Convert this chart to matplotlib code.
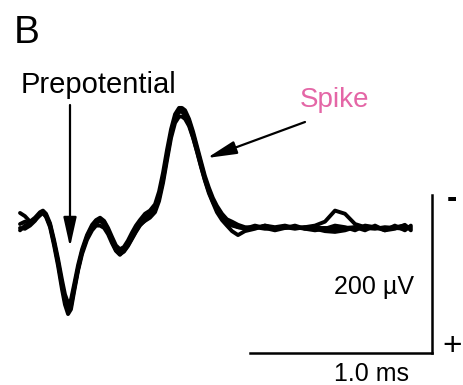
import matplotlib
matplotlib.use("Agg")
import matplotlib.pyplot as plt

plt.rcParams['font.family'] = ['Liberation Sans', 'DejaVu Sans']

# time (ms) and voltage (µV, negative up) of overlaid traces
time_ms = [0.000, 0.027, 0.055, 0.082, 0.110, 0.126, 0.143, 0.165, 0.187, 0.209,
           0.231, 0.247, 0.264, 0.280, 0.297, 0.319, 0.341, 0.368, 0.396, 0.418,
           0.440, 0.462, 0.484, 0.505, 0.527, 0.549, 0.571, 0.593, 0.615, 0.637,
           0.659, 0.687, 0.714, 0.742, 0.764, 0.786, 0.808, 0.830, 0.852, 0.874,
           0.890, 0.907, 0.929, 0.951, 0.973, 0.995, 1.016, 1.038, 1.060, 1.082,
           1.110, 1.137, 1.165, 1.198, 1.236, 1.291, 1.346, 1.401, 1.456, 1.511,
           1.566, 1.621, 1.676, 1.731, 1.786, 1.841, 1.896, 1.951, 2.005, 2.060,
           2.115, 2.148]

trace_a = [-5, -8, -6, -11, -19, -20, -16, -4, 18, 43,
           71, 89, 100, 95, 76, 51, 30, 13, 0, -6,
           -9, -5, 4, 15, 25, 30, 27, 19, 10, 1,
           -6, -14, -19, -27, -41, -63, -92, -120, -139, -148,
           -149, -147, -135, -119, -100, -81, -63, -48, -35, -25,
           -15, -9, -5, -1, 0, -1, 1, 0, 0, -1,
           1, 0, 0, 1, 0, -1, 0, 1, -1, 0,
           1, -1]

trace_b = [0, 1, -3, -9, -18, -19, -14, -1, 22, 48,
           78, 97, 109, 103, 81, 54, 33, 15, 3, -3,
           -3, 0, 8, 19, 29, 34, 29, 22, 13, 4,
           -4, -9, -13, -20, -34, -57, -86, -114, -133, -141,
           -141, -138, -129, -114, -96, -77, -60, -44, -32, -20,
           -10, -3, 4, 9, 4, 1, -3, 1, -1, 1,
           -1, 1, 4, 5, 3, -1, 3, -3, 3, -3,
           3, -3]

trace_c = [-19, -15, -8, -13, -20, -22, -18, -6, 15, 39,
           66, 84, 95, 91, 72, 47, 27, 9, -4, -10,
           -13, -9, 0, 11, 22, 27, 24, 16, 6, -3,
           -10, -18, -22, -30, -46, -70, -99, -125, -144, -152,
           -152, -149, -138, -122, -103, -84, -66, -51, -38, -28,
           -18, -11, -8, -4, -1, 0, -3, -1, -3, 0,
           -1, -3, -8, -22, -18, -5, -1, 0, 1, -1,
           -3, 1]

trace_d = [3, -3, -5, -10, -16, -19, -15, -3, 19, 44,
           73, 92, 104, 99, 78, 52, 30, 11, -1, -9,
           -11, -8, 3, 16, 28, 33, 30, 23, 14, 5,
           -3, -10, -16, -24, -38, -61, -90, -118, -138, -147,
           -147, -143, -131, -115, -97, -78, -61, -46, -33, -23,
           -13, -6, -3, -1, 1, -3, 0, 3, 0, -3,
           1, 3, 1, -3, -1, 3, -3, -1, 3, 1,
           -4, 3]

traces = [trace_a, trace_b, trace_c, trace_d]

scale_time_ms = 1.0
scale_volt_uv = 200
scale_corner = (2.264, 158)   # (ms, µV) corner of the scale bar

fig = plt.figure(figsize=(4.64, 3.85), dpi=100)
ax = fig.add_axes([0, 0, 1, 1])
ax.set_xlim(-0.110, 2.440)
ax.set_ylim(198.8, -288.6)
ax.axis('off')

for tr in traces:
    ax.plot(time_ms, tr, color='black', lw=2.8, solid_capstyle='round',
            solid_joinstyle='round')

# scale bar
cx, cy = scale_corner
ax.plot([cx - scale_time_ms, cx], [cy, cy], color='black', lw=1.8)
ax.plot([cx, cx], [cy, cy - scale_volt_uv], color='black', lw=1.8)

# texts (figure pixels: x from left, y from top)
W, H = 464, 385
def ftext(x, y, s, **kw):
    fig.text(x / W, 1 - y / H, s, **kw)

ftext(14, 43, 'B', fontsize=28, ha='left', va='baseline')
ftext(21, 93, 'Prepotential', fontsize=21, ha='left', va='baseline')
ftext(300, 107, 'Spike', fontsize=20, ha='left', va='baseline', color='#e466a6')
ftext(414, 294, '200 µV', fontsize=18, ha='right', va='baseline')
ftext(372, 381, '1.0 ms', fontsize=18, ha='center', va='baseline')
ftext(452, 207, '-', fontsize=22, ha='center', va='baseline', fontweight='bold')
ftext(452, 355, '+', fontsize=24, ha='center', va='baseline')

# arrows
arrow_style = '-|>,head_length=0.9,head_width=0.2'
ax.annotate('', xy=(70, H - 247), xytext=(70, H - 105),
            xycoords='figure pixels', textcoords='figure pixels',
            arrowprops=dict(arrowstyle=arrow_style,
                            lw=1.6, color='black', mutation_scale=20,
                            shrinkA=0, shrinkB=0))
ax.annotate('', xy=(207, H - 158), xytext=(305, H - 122),
            xycoords='figure pixels', textcoords='figure pixels',
            arrowprops=dict(arrowstyle=arrow_style,
                            lw=1.6, color='black', mutation_scale=20,
                            shrinkA=0, shrinkB=0))

fig.savefig('out.png', dpi=100, facecolor='white')
